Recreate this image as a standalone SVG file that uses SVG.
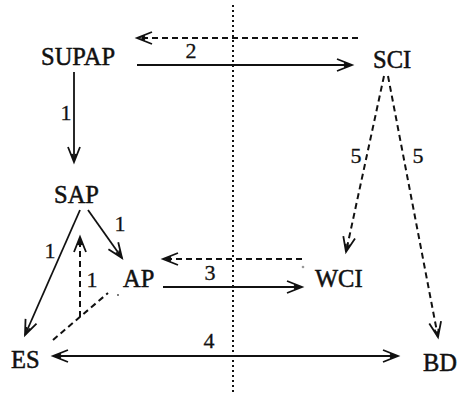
<svg xmlns="http://www.w3.org/2000/svg" width="458" height="394" viewBox="0 0 458 394">
<style>
.node{font-family:"Liberation Serif","Times New Roman",serif;font-size:24.5px;fill:#111;stroke:#111;stroke-width:0.5}
.lbl{font-family:"Liberation Serif","Times New Roman",serif;font-size:22px;fill:#111;stroke:#111;stroke-width:0.3;text-anchor:middle}
.solid{stroke:#111;stroke-width:1.8;fill:none}
.dash{stroke:#111;stroke-width:2;fill:none;stroke-dasharray:6 4}
.dot{stroke:#111;stroke-width:2;fill:none;stroke-dasharray:2 3}
</style>
<defs>
<marker id="ah" markerUnits="userSpaceOnUse" markerWidth="20" markerHeight="16" viewBox="-16 -8 18 16" refX="0" refY="0" orient="auto-start-reverse">
<path d="M-15,-6 L0,0 L-15,6 M-8,-2 L0,0 L-8,2" stroke="#111" stroke-width="1.8" fill="none"/>
</marker>
</defs>
<rect width="458" height="394" fill="#fff"/>
<g id="divider"><line class="dot" x1="233" y1="5" x2="233" y2="392"/></g>
<g id="connectors">
<line class="solid" x1="137" y1="65" x2="352" y2="65" marker-end="url(#ah)"/>
<line class="dash" x1="358" y1="38" x2="137" y2="38" marker-end="url(#ah)"/>
<line class="solid" x1="74" y1="72" x2="74" y2="162" marker-end="url(#ah)"/>
<line class="dash" x1="384" y1="76" x2="346" y2="252" marker-end="url(#ah)"/>
<line class="dash" x1="388" y1="76" x2="438" y2="337" marker-end="url(#ah)"/>
<line class="solid" x1="80" y1="210" x2="25" y2="335" marker-end="url(#ah)"/>
<line class="solid" x1="88" y1="210" x2="122" y2="258" marker-end="url(#ah)"/>
<line class="dash" x1="53" y1="340" x2="108" y2="293"/>
<circle cx="118" cy="295" r="0.9" fill="#444"/>
<line class="dash" x1="80" y1="317" x2="80" y2="237" marker-end="url(#ah)"/>
<line class="solid" x1="163" y1="287" x2="302" y2="287" marker-end="url(#ah)"/>
<line class="dash" x1="302" y1="259" x2="163" y2="259" marker-end="url(#ah)"/>
<circle cx="303" cy="267" r="1.3" fill="#999"/>
<line class="solid" x1="53" y1="356" x2="398" y2="356" marker-start="url(#ah)" marker-end="url(#ah)"/>
<text class="lbl" x="191" y="58">2</text>
<text class="lbl" x="66" y="120">1</text>
<text class="lbl" x="356" y="163">5</text>
<text class="lbl" x="418" y="163">5</text>
<text class="lbl" x="50" y="258">1</text>
<text class="lbl" x="120" y="231">1</text>
<text class="lbl" x="92" y="287">1</text>
<text class="lbl" x="210" y="280">3</text>
<text class="lbl" x="209" y="348">4</text>
</g>
<g id="SUPAP"><text class="node" x="41" y="65">SUPAP</text></g>
<g id="SCI"><text class="node" x="373" y="68">SCI</text></g>
<g id="SAP"><text class="node" x="54" y="203">SAP</text></g>
<g id="AP"><text class="node" x="123" y="287">AP</text></g>
<g id="WCI"><text class="node" x="315" y="287">WCI</text></g>
<g id="ES"><text class="node" x="11" y="368">ES</text></g>
<g id="BD"><text class="node" x="423" y="371">BD</text></g>
</svg>
